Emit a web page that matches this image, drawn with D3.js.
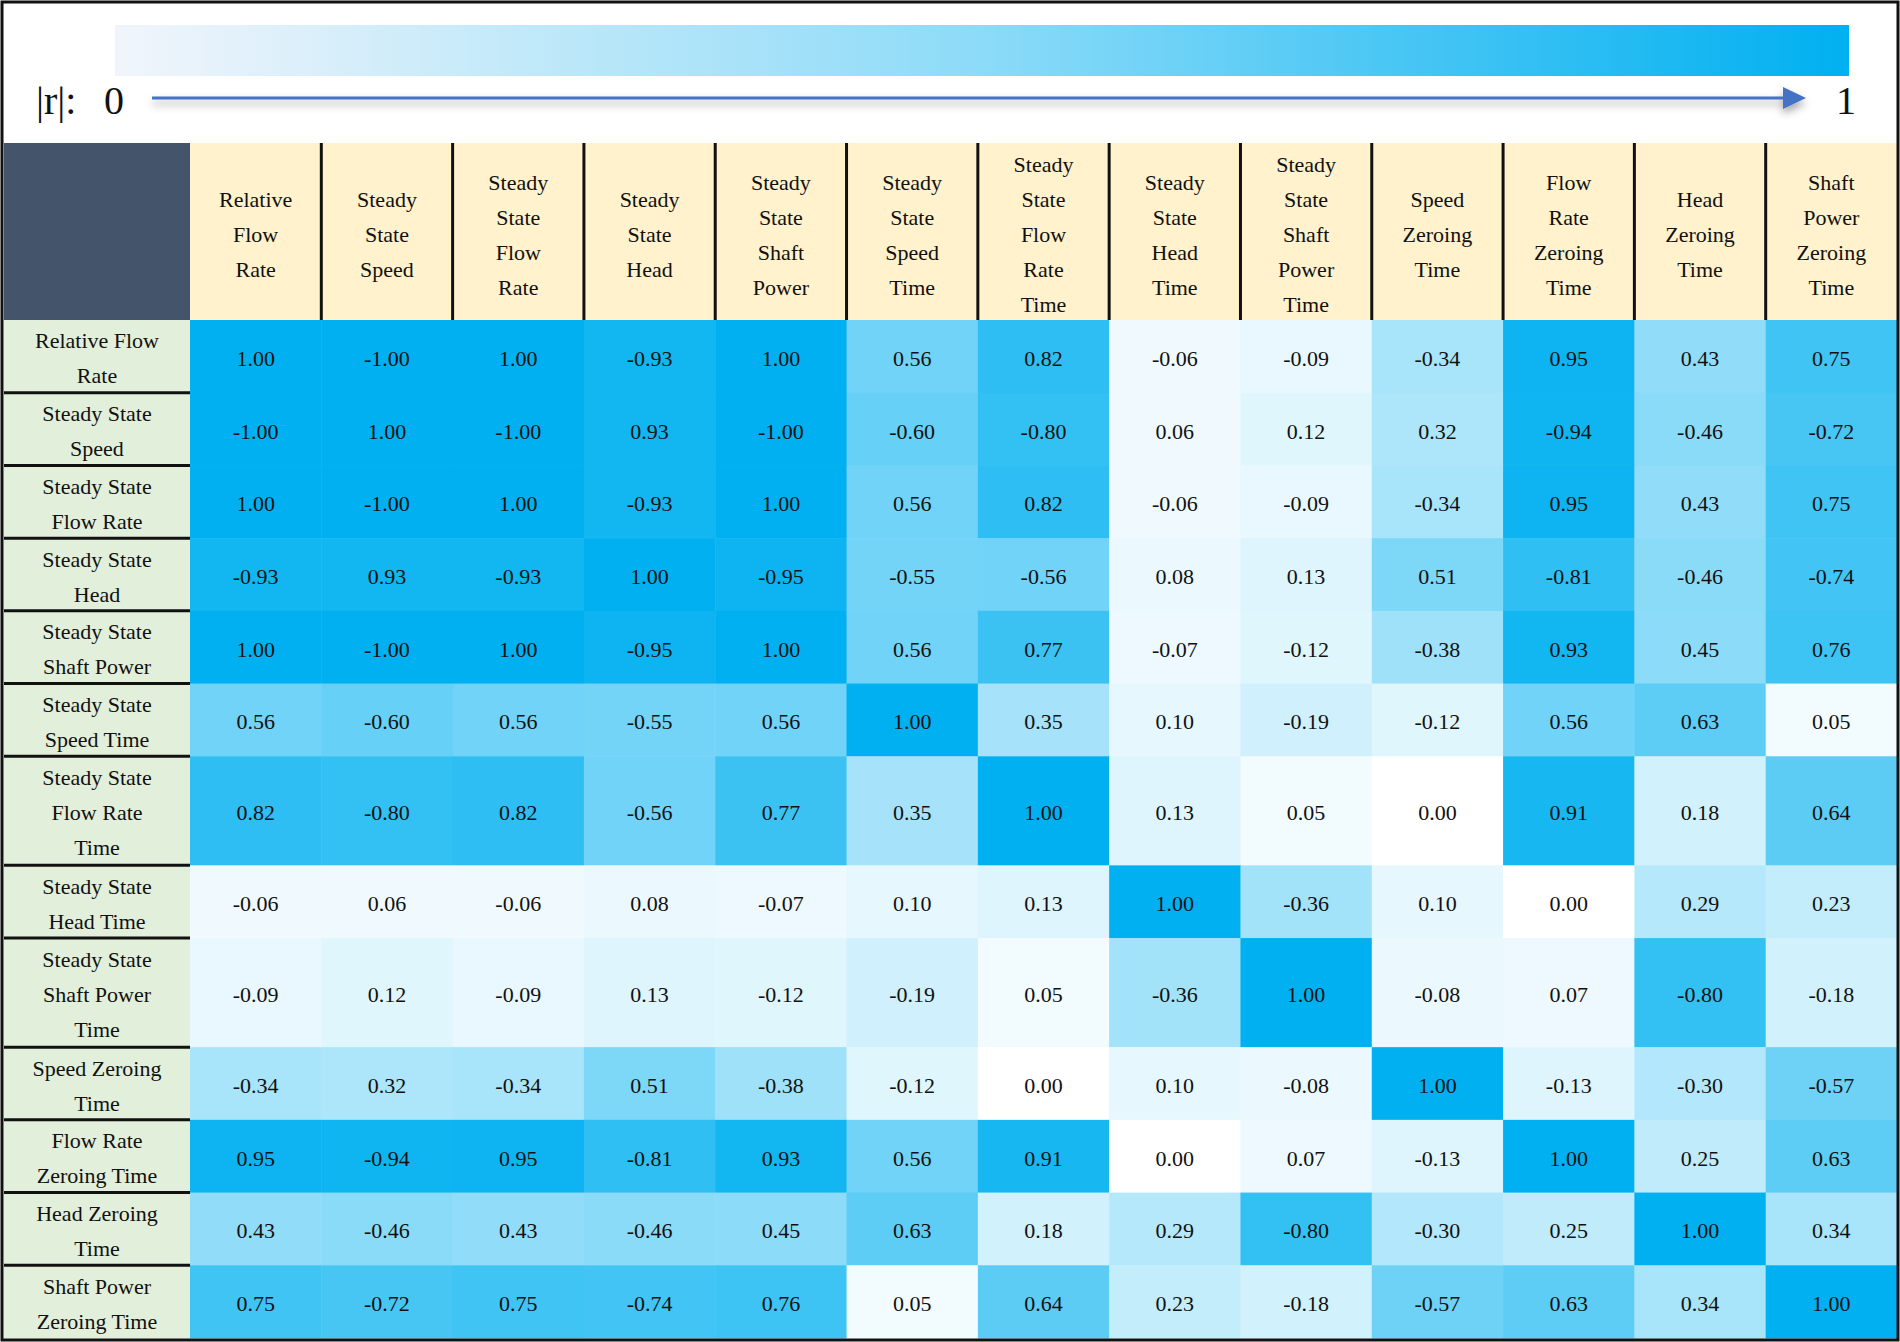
<!DOCTYPE html>
<html lang="en">
<head>
<meta charset="UTF-8">
<title>Correlation Heatmap</title>
<script src="https://cdn.jsdelivr.net/npm/d3@7/dist/d3.min.js"></script>
<style>
  body { margin: 0; background: #fff; overflow: hidden; }
  svg { display: block; }
  text { font-family: "Liberation Serif", "Times New Roman", serif; fill: #111; }
</style>
</head>
<body>
<svg id="chart"></svg>
<script>
// column headers (one word per line in the header cells)
const colLabels = [
  "Relative Flow Rate", "Steady State Speed", "Steady State Flow Rate", "Steady State Head",
  "Steady State Shaft Power", "Steady State Speed Time", "Steady State Flow Rate Time",
  "Steady State Head Time", "Steady State Shaft Power Time", "Speed Zeroing Time",
  "Flow Rate Zeroing Time", "Head Zeroing Time", "Shaft Power Zeroing Time"
];

// row labels, already broken into lines
const rowLabels = [
  ["Relative Flow", "Rate"],
  ["Steady State", "Speed"],
  ["Steady State", "Flow Rate"],
  ["Steady State", "Head"],
  ["Steady State", "Shaft Power"],
  ["Steady State", "Speed Time"],
  ["Steady State", "Flow Rate", "Time"],
  ["Steady State", "Head Time"],
  ["Steady State", "Shaft Power", "Time"],
  ["Speed Zeroing", "Time"],
  ["Flow Rate", "Zeroing Time"],
  ["Head Zeroing", "Time"],
  ["Shaft Power", "Zeroing Time"]
];

// correlation coefficients r
const corr = [
  [ 1.00, -1.00,  1.00, -0.93,  1.00,  0.56,  0.82, -0.06, -0.09, -0.34,  0.95,  0.43,  0.75],
  [-1.00,  1.00, -1.00,  0.93, -1.00, -0.60, -0.80,  0.06,  0.12,  0.32, -0.94, -0.46, -0.72],
  [ 1.00, -1.00,  1.00, -0.93,  1.00,  0.56,  0.82, -0.06, -0.09, -0.34,  0.95,  0.43,  0.75],
  [-0.93,  0.93, -0.93,  1.00, -0.95, -0.55, -0.56,  0.08,  0.13,  0.51, -0.81, -0.46, -0.74],
  [ 1.00, -1.00,  1.00, -0.95,  1.00,  0.56,  0.77, -0.07, -0.12, -0.38,  0.93,  0.45,  0.76],
  [ 0.56, -0.60,  0.56, -0.55,  0.56,  1.00,  0.35,  0.10, -0.19, -0.12,  0.56,  0.63,  0.05],
  [ 0.82, -0.80,  0.82, -0.56,  0.77,  0.35,  1.00,  0.13,  0.05,  0.00,  0.91,  0.18,  0.64],
  [-0.06,  0.06, -0.06,  0.08, -0.07,  0.10,  0.13,  1.00, -0.36,  0.10,  0.00,  0.29,  0.23],
  [-0.09,  0.12, -0.09,  0.13, -0.12, -0.19,  0.05, -0.36,  1.00, -0.08,  0.07, -0.80, -0.18],
  [-0.34,  0.32, -0.34,  0.51, -0.38, -0.12,  0.00,  0.10, -0.08,  1.00, -0.13, -0.30, -0.57],
  [ 0.95, -0.94,  0.95, -0.81,  0.93,  0.56,  0.91,  0.00,  0.07, -0.13,  1.00,  0.25,  0.63],
  [ 0.43, -0.46,  0.43, -0.46,  0.45,  0.63,  0.18,  0.29, -0.80, -0.30,  0.25,  1.00,  0.34],
  [ 0.75, -0.72,  0.75, -0.74,  0.76,  0.05,  0.64,  0.23, -0.18, -0.57,  0.63,  0.34,  1.00]
];

const legendTicks = ["0", "1"];

const width = 1900, height = 1342;
const left = 4, labelRight = 190, right = 1897;
const headTop = 143, headBottom = 320, bottom = 1338;
const lineH = 35;

const svg = d3.select("#chart").attr("width", width).attr("height", height);
const defs = svg.append("defs");

const color = d3.scaleLinear().domain([0, 1]).range(["#ffffff", "#00b0f0"]);

// ---- legend ----
const grad = defs.append("linearGradient").attr("id", "bar");
grad.append("stop").attr("offset", "0%").attr("stop-color", "#f1f5fb");
grad.append("stop").attr("offset", "50%").attr("stop-color", color(0.45));
grad.append("stop").attr("offset", "100%").attr("stop-color", color(1));

defs.append("filter").attr("id", "shadow")
  .attr("x", "-5%").attr("y", "-200%").attr("width", "110%").attr("height", "500%")
  .append("feDropShadow")
  .attr("dx", 0).attr("dy", 5).attr("stdDeviation", 4)
  .attr("flood-color", "#000").attr("flood-opacity", 0.35);

const lx = d3.scaleLinear().domain([0, 1]).range([152, 1806]);

svg.append("rect")
  .attr("x", 115).attr("y", 25).attr("width", 1849 - 115).attr("height", 51)
  .attr("fill", "url(#bar)");

const arrow = svg.append("g").attr("filter", "url(#shadow)");
arrow.append("line")
  .attr("x1", lx(0)).attr("x2", lx(1) - 20)
  .attr("y1", 98).attr("y2", 98)
  .attr("stroke", "#4472c4").attr("stroke-width", 3);
arrow.append("path")
  .attr("d", `M${lx(1) - 23},87L${lx(1)},98L${lx(1) - 23},109Z`)
  .attr("fill", "#4472c4");

svg.append("text").attr("x", 36).attr("y", 114)
  .attr("font-size", 40).text("|r|:");
svg.append("text").attr("x", 104).attr("y", 114)
  .attr("font-size", 40).text(legendTicks[0]);
svg.append("text").attr("x", 1836).attr("y", 114)
  .attr("font-size", 40).text(legendTicks[1]);

// ---- scales for the table ----
const x = d3.scaleBand().domain(d3.range(colLabels.length)).range([labelRight, right]);
const units = rowLabels.map(l => Math.max(2, l.length));
const starts = units.map((u, i) => d3.sum(units.slice(0, i)));
const yU = d3.scaleLinear().domain([0, d3.sum(units)]).range([headBottom, bottom]);
const rowTop = i => yU(starts[i]);
const rowH = i => yU(starts[i] + units[i]) - yU(starts[i]);

// ---- cells ----
const cells = [];
corr.forEach((row, i) => row.forEach((v, j) => cells.push({ i, j, v })));

svg.append("g")
  .selectAll("rect")
  .data(cells)
  .join("rect")
  .attr("x", d => x(d.j))
  .attr("y", d => rowTop(d.i))
  .attr("width", x.bandwidth() + 0.5)
  .attr("height", d => rowH(d.i) + 0.5)
  .attr("fill", d => color(Math.abs(d.v)));

svg.append("g")
  .selectAll("text")
  .data(cells)
  .join("text")
  .attr("x", d => x(d.j) + x.bandwidth() / 2)
  .attr("y", d => rowTop(d.i) + rowH(d.i) / 2 + 2)
  .attr("text-anchor", "middle")
  .attr("dominant-baseline", "central")
  .attr("font-size", 22)
  .text(d => d.v.toFixed(2));

// ---- header ----
svg.append("rect")
  .attr("x", left).attr("y", headTop)
  .attr("width", labelRight - left).attr("height", headBottom - headTop)
  .attr("fill", "#44546a");

svg.append("g")
  .selectAll("rect")
  .data(colLabels)
  .join("rect")
  .attr("x", (d, j) => x(j))
  .attr("y", headTop)
  .attr("width", x.bandwidth() + 0.5)
  .attr("height", headBottom - headTop)
  .attr("fill", "#fff2cc");

const headMid = (headTop + headBottom) / 2 + 3;
svg.append("g")
  .selectAll("text")
  .data(colLabels)
  .join("text")
  .attr("text-anchor", "middle")
  .attr("font-size", 22)
  .each(function (d, j) {
    const words = d.split(" ");
    d3.select(this).selectAll("tspan")
      .data(words)
      .join("tspan")
      .attr("x", x(j) + x.bandwidth() / 2)
      .attr("y", (w, k) => headMid + (k - (words.length - 1) / 2) * lineH)
      .attr("dominant-baseline", "central")
      .text(w => w);
  });

svg.append("g")
  .selectAll("line")
  .data(d3.range(1, colLabels.length))
  .join("line")
  .attr("x1", j => x(j)).attr("x2", j => x(j))
  .attr("y1", headTop).attr("y2", headBottom)
  .attr("stroke", "#111").attr("stroke-width", 3);

// ---- row labels ----
svg.append("g")
  .selectAll("rect")
  .data(rowLabels)
  .join("rect")
  .attr("x", left)
  .attr("y", (d, i) => rowTop(i))
  .attr("width", labelRight - left)
  .attr("height", (d, i) => rowH(i) + 0.5)
  .attr("fill", "#e2efda");

svg.append("g")
  .selectAll("text")
  .data(rowLabels)
  .join("text")
  .attr("text-anchor", "middle")
  .attr("font-size", 22)
  .each(function (lines, i) {
    const mid = rowTop(i) + rowH(i) / 2;
    d3.select(this).selectAll("tspan")
      .data(lines)
      .join("tspan")
      .attr("x", (left + labelRight) / 2)
      .attr("y", (w, k) => mid + (k - (lines.length - 1) / 2) * lineH + 2)
      .attr("dominant-baseline", "central")
      .text(w => w);
  });

svg.append("g")
  .selectAll("line")
  .data(d3.range(1, rowLabels.length))
  .join("line")
  .attr("x1", left).attr("x2", labelRight)
  .attr("y1", i => rowTop(i)).attr("y2", i => rowTop(i))
  .attr("stroke", "#111").attr("stroke-width", 3);

// outer frame
svg.append("rect")
  .attr("x", 2).attr("y", 2)
  .attr("width", width - 4).attr("height", height - 4)
  .attr("fill", "none")
  .attr("stroke", "#111").attr("stroke-width", 3);
</script>
</body>
</html>
